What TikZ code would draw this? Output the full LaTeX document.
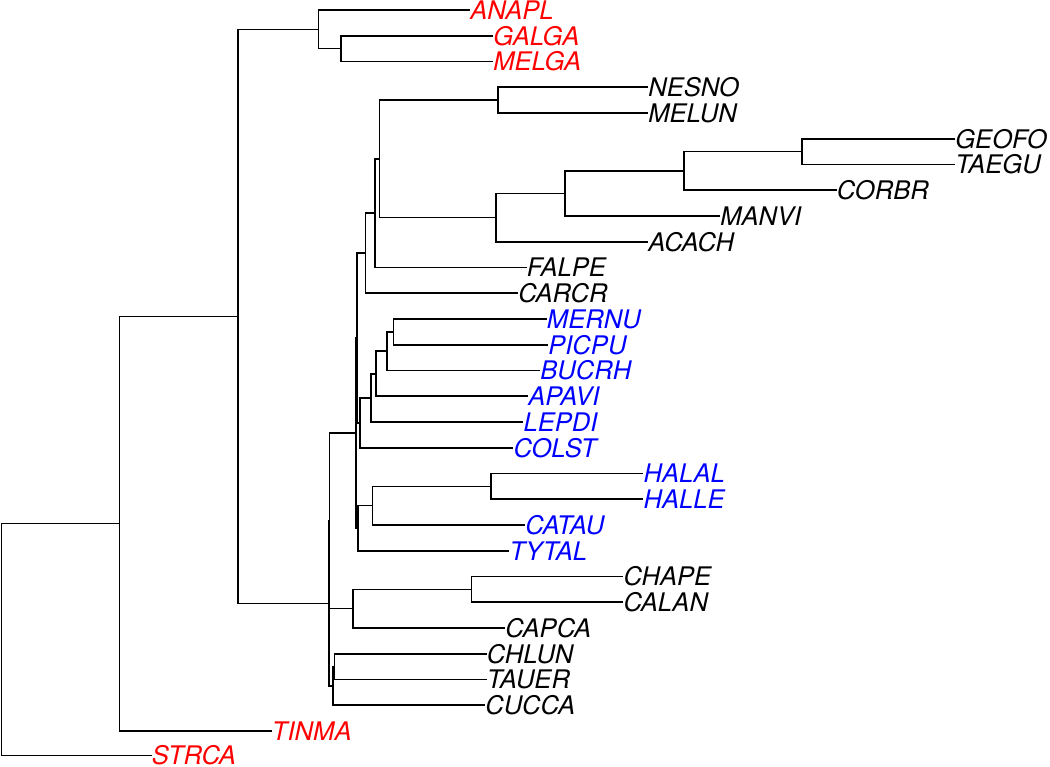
\documentclass[tikz,border=0pt]{standalone}
\usepackage{fontspec}
\setmainfont{TeX Gyre Heros}
\usetikzlibrary{calc}

\tikzset{
  branch/.style={line width=1.2pt, black},
  tip/.style={anchor=west, inner sep=0pt, font=\fontsize{19.2}{20}\selectfont\itshape},
  outgroup/.style={tip, text=red},
  waterbird/.style={tip, text=blue},
}

% inner node: name, x, first child, second child
\newcommand\treenode[4]{%
  \path let \p1=(#3), \p2=(#4) in ({#2*0.75pt},{0.5*(\y1+\y2)}) coordinate (#1);
  \draw[branch] (#1) |- (#3);
  \draw[branch] (#1) |- (#4);
}

\begin{document}
\begin{tikzpicture}[x=0.75pt, y=-0.75pt]
    \useasboundingbox (0,0) rectangle (1050,767);

    % Tip labels
    \node[outgroup] (ANAPL) at (470,10) {ANAPL};
    \node[outgroup] (GALGA) at (493,35.75) {GALGA};
    \node[outgroup] (MELGA) at (493,61.5) {MELGA};
    \node[tip] (NESNO) at (648,87.25) {NESNO};
    \node[tip] (MELUN) at (648,113) {MELUN};
    \node[tip] (GEOFO) at (955,138.75) {GEOFO};
    \node[tip] (TAEGU) at (955,164.5) {TAEGU};
    \node[tip] (CORBR) at (836.7,190.25) {CORBR};
    \node[tip] (MANVI) at (720,216) {MANVI};
    \node[tip] (ACACH) at (648,241.75) {ACACH};
    \node[tip] (FALPE) at (526.7,267.5) {FALPE};
    \node[tip] (CARCR) at (518,293.25) {CARCR};
    \node[waterbird] (MERNU) at (546.7,319) {MERNU};
    \node[waterbird] (PICPU) at (548,344.75) {PICPU};
    \node[waterbird] (BUCRH) at (540,370.5) {BUCRH};
    \node[waterbird] (APAVI) at (528,396.25) {APAVI};
    \node[waterbird] (LEPDI) at (523.3,422) {LEPDI};
    \node[waterbird] (COLST) at (513.3,447.75) {COLST};
    \node[waterbird] (HALAL) at (643.3,473.5) {HALAL};
    \node[waterbird] (HALLE) at (643.3,499.25) {HALLE};
    \node[waterbird] (CATAU) at (525,525) {CATAU};
    \node[waterbird] (TYTAL) at (509.3,550.75) {TYTAL};
    \node[tip] (CHAPE) at (623.3,576.5) {CHAPE};
    \node[tip] (CALAN) at (623.3,602.25) {CALAN};
    \node[tip] (CAPCA) at (505,628) {CAPCA};
    \node[tip] (CHLUN) at (486.7,653.75) {CHLUN};
    \node[tip] (TAUER) at (486.7,679.5) {TAUER};
    \node[tip] (CUCCA) at (485,705.25) {CUCCA};
    \node[outgroup] (TINMA) at (271.7,731) {TINMA};
    \node[outgroup] (STRCA) at (151.7,755.5) {STRCA};

    % Galloanserae
    \treenode{galmel}{340.7}{GALGA.west}{MELGA.west}
    \treenode{gallo}{318.3}{ANAPL.west}{galmel}

    % upper land birds
    \treenode{nesmel}{497.7}{NESNO.west}{MELUN.west}
    \treenode{geotae}{801.7}{GEOFO.west}{TAEGU.west}
    \treenode{oscines}{684}{geotae}{CORBR.west}
    \treenode{passeri}{565}{oscines}{MANVI.west}
    \treenode{passer}{496}{passeri}{ACACH.west}
    \treenode{psitpass}{379.3}{nesmel}{passer}
    \treenode{falco}{374.7}{psitpass}{FALPE.west}
    \treenode{cario}{365.5}{falco}{CARCR.west}

    % lower land birds
    \treenode{merpic}{393.3}{MERNU.west}{PICPU.west}
    \treenode{bucero}{386.7}{merpic}{BUCRH.west}
    \treenode{apalo}{376}{bucero}{APAVI.west}
    \treenode{lepto}{371}{apalo}{LEPDI.west}
    \treenode{coraci}{360}{lepto}{COLST.west}
    \treenode{landA}{356.7}{cario}{coraci}

    % raptors
    \treenode{hali}{491}{HALAL.west}{HALLE.west}
    \treenode{accip}{372.5}{hali}{CATAU.west}
    \treenode{raptor}{357.7}{accip}{TYTAL.west}
    \treenode{landB}{355.8}{landA}{raptor}

    % shorebirds and cuckoos
    \treenode{chacal}{471.5}{CHAPE.west}{CALAN.west}
    \treenode{charad}{352.7}{chacal}{CAPCA.west}
    \treenode{neoA}{329.6}{landB}{charad}
    \treenode{chltau}{334.3}{CHLUN.west}{TAUER.west}
    \treenode{cucu}{332.7}{chltau}{CUCCA.west}
    \treenode{neoaves}{329}{neoA}{cucu}

    % root
    \treenode{neognath}{237.7}{gallo}{neoaves}
    \treenode{neornA}{119.3}{neognath}{TINMA.west}
    \treenode{root}{1.7}{neornA}{STRCA.west}
\end{tikzpicture}
\end{document}
